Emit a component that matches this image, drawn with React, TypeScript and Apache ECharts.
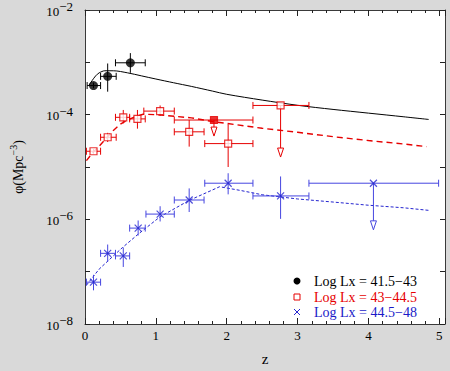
import React, { useEffect, useRef } from 'react';
import * as echarts from 'echarts';

// ---- axis ticks ----
const xTickValues = [0, 1, 2, 3, 4, 5];
const yLabelExponents = [-2, -4, -6, -8];

// ---- Log Lx = 41.5-43 (black, filled circles) ----
const blackZ = [0.12, 0.32, 0.64];
const blackPhi = [3.6e-4, 5.4e-4, 9.8e-4];
const blackZlo = [0.03, 0.22, 0.43];
const blackZhi = [0.22, 0.44, 0.85];
const blackPhiLo = [3.2e-4, 2.75e-4, 6.3e-4];
const blackPhiHi = [4.1e-4, 9.5e-4, 1.5e-3];
const blackLimit = [0, 0, 0];

const blackModelZ = [0.05, 0.1, 0.15, 0.2, 0.28, 0.4, 0.6, 0.8, 1.0, 1.25, 1.5, 1.8, 2.0, 2.5, 3.0, 3.5, 4.0, 4.5, 4.85];
const blackModelPhi = [3.55e-4, 4.47e-4, 5.5e-4, 6.3e-4, 6.9e-4, 6.9e-4, 6.3e-4, 5.5e-4, 4.8e-4, 4.07e-4, 3.47e-4, 2.82e-4, 2.45e-4, 1.9e-4, 1.51e-4, 1.26e-4, 1.07e-4, 9.1e-5, 8.1e-5];

// ---- Log Lx = 43-44.5 (red, open squares) ----
const redZ = [0.12, 0.32, 0.54, 0.74, 1.06, 1.47, 1.82, 2.02, 2.76];
const redPhi = [2.0e-5, 3.7e-5, 8.9e-5, 8.3e-5, 1.17e-4, 4.7e-5, 7.9e-5, 2.8e-5, 1.5e-4];
const redZlo = [0.02, 0.22, 0.43, 0.63, 0.83, 1.26, 1.26, 1.69, 2.37];
const redZhi = [0.22, 0.44, 0.63, 0.85, 1.26, 1.68, 2.37, 2.37, 3.16];
const redPhiLo = [1.8e-5, 3.0e-5, 6.8e-5, 5.4e-5, 9.5e-5, 2.45e-5, 3.9e-5, 1.0e-5, 1.55e-5];
const redPhiHi = [2.2e-5, 4.5e-5, 1.23e-4, 1.23e-4, 1.5e-4, 7.9e-5, 7.9e-5, 6.6e-5, 1.5e-4];
const redLimit = [0, 0, 0, 0, 0, 0, 1, 0, 1];
const redFilled = [0, 0, 0, 0, 0, 0, 1, 0, 0];

const redModelZ = [0.02, 0.1, 0.2, 0.3, 0.4, 0.5, 0.6, 0.7, 0.82, 1.0, 1.5, 1.8, 2.5, 3.0, 3.5, 4.0, 4.5, 4.82];
const redModelPhi = [1.32e-5, 1.82e-5, 2.5e-5, 3.55e-5, 5.0e-5, 6.6e-5, 7.9e-5, 9.1e-5, 1.02e-4, 1.0e-4, 8.7e-5, 7.4e-5, 5.5e-5, 4.6e-5, 3.8e-5, 3.2e-5, 2.75e-5, 2.45e-5];

// ---- Log Lx = 44.5-48 (blue, crosses) ----
const blueZ = [0.12, 0.32, 0.54, 0.75, 1.06, 1.47, 2.02, 2.76, 4.07];
const bluePhi = [6.3e-8, 2.24e-7, 2.0e-7, 6.8e-7, 1.26e-6, 2.34e-6, 4.9e-6, 2.8e-6, 4.9e-6];
const blueZlo = [0.02, 0.22, 0.43, 0.63, 0.86, 1.26, 1.69, 2.37, 3.16];
const blueZhi = [0.22, 0.43, 0.63, 0.85, 1.26, 1.68, 2.37, 3.16, 4.99];
const bluePhiLo = [4.4e-8, 1.55e-7, 1.23e-7, 4.9e-7, 9.1e-7, 1.38e-6, 3.0e-6, 1.02e-6, 6.3e-7];
const bluePhiHi = [8.7e-8, 3.3e-7, 2.9e-7, 9.5e-7, 1.78e-6, 3.9e-6, 7.6e-6, 6.6e-6, 4.9e-6];
const blueLimit = [0, 0, 0, 0, 0, 0, 0, 0, 1];

const blueModelZ = [0.02, 0.2, 0.4, 0.53, 0.75, 1.06, 1.47, 1.9, 2.2, 2.5, 3.0, 3.5, 4.0, 4.5, 4.86];
const blueModelPhi = [5.5e-8, 1.12e-7, 2.0e-7, 2.9e-7, 5.2e-7, 1.12e-6, 2.3e-6, 4.2e-6, 3.55e-6, 2.95e-6, 2.45e-6, 2.14e-6, 1.86e-6, 1.66e-6, 1.48e-6];

const legendLabels = ['Log Lx = 41.5\u221243', 'Log Lx = 43\u221244.5', 'Log Lx = 44.5\u221248'];

const SERIF = "'Liberation Serif', 'Times New Roman', Times, serif";
const BLACK = '#000000';
const RED = '#e60000';
const BLUE_MARK = '#4646e0';
const BLUE_LINE = '#2424d0';
const BLUE_TEXT = '#1a1ac8';

function pairs(xs: number[], ys: number[]) {
  return xs.map((x, i) => [x, ys[i]]);
}

function errData(z: number[], phi: number[], zlo: number[], zhi: number[], lo: number[], hi: number[], lim: number[]) {
  return z.map((v, i) => [v, phi[i], zlo[i], zhi[i], lo[i], hi[i], lim[i]]);
}

function makeErrRender(color: string) {
  return (params: any, api: any) => {
    const z = api.value(0);
    const y = api.value(1);
    const zlo = api.value(2);
    const zhi = api.value(3);
    const lo = api.value(4);
    const hi = api.value(5);
    const lim = api.value(6);
    const c = api.coord([z, y]);
    const l = api.coord([zlo, y]);
    const r = api.coord([zhi, y]);
    const st = { stroke: color, lineWidth: 1 };
    const children: any[] = [];
    children.push({ type: 'line', shape: { x1: l[0], y1: c[1], x2: r[0], y2: c[1] }, style: st });
    children.push({ type: 'line', shape: { x1: l[0], y1: c[1] - 3.5, x2: l[0], y2: c[1] + 3.5 }, style: st });
    children.push({ type: 'line', shape: { x1: r[0], y1: c[1] - 3.5, x2: r[0], y2: c[1] + 3.5 }, style: st });
    const b = api.coord([z, lo]);
    if (lim) {
      children.push({ type: 'line', shape: { x1: c[0], y1: c[1], x2: c[0], y2: b[1] - 8 }, style: st });
      children.push({
        type: 'polygon',
        shape: { points: [[c[0] - 3, b[1] - 9], [c[0] + 3, b[1] - 9], [c[0], b[1]]] },
        style: { fill: '#ffffff', stroke: color, lineWidth: 1 },
      });
    } else {
      const t = api.coord([z, hi]);
      children.push({ type: 'line', shape: { x1: c[0], y1: t[1], x2: c[0], y2: b[1] }, style: st });
    }
    return { type: 'group', children };
  };
}

export default function App() {
  const ref = useRef<HTMLDivElement>(null);
  useEffect(() => {
    if (!ref.current) return;
    const chart = echarts.init(ref.current, undefined, { renderer: 'svg' });
    const axisLineStyle = { color: '#3a3a3a', width: 1 };
    const xCommon = {
      type: 'value',
      min: 0,
      max: 5.08,
      interval: 1,
      axisLine: { show: true, onZero: false, lineStyle: axisLineStyle },
      axisTick: { show: true, inside: true, length: 6, lineStyle: { color: '#222' } },
      minorTick: { show: true, splitNumber: 5, length: 3, lineStyle: { color: '#222' } },
      splitLine: { show: false },
    };
    const yCommon = {
      type: 'log',
      logBase: 10,
      min: 1e-8,
      max: 1e-2,
      splitNumber: 6,
      axisLine: { show: true, onZero: false, lineStyle: axisLineStyle },
      axisTick: { show: true, inside: true, length: 5, lineStyle: { color: '#222' } },
      splitLine: { show: false },
    };
    const option: any = {
      animation: false,
      backgroundColor: '#d9d9d9',
      textStyle: { fontFamily: SERIF },
      grid: { left: 80, top: 10, right: 5, bottom: 38, show: true, backgroundColor: '#ffffff', borderWidth: 0 },
      xAxis: [
        {
          ...xCommon,
          position: 'bottom',
          name: 'z',
          nameLocation: 'middle',
          nameGap: 27,
          nameTextStyle: { fontFamily: SERIF, fontSize: 15, color: '#000' },
          axisLabel: {
            show: true,
            margin: 5,
            fontFamily: SERIF,
            fontSize: 13,
            color: '#000',
            showMaxLabel: false,
            formatter: (v: number) => (xTickValues.includes(Math.round(v * 1000) / 1000) ? String(v) : ''),
          },
        },
        {
          ...xCommon,
          position: 'top',
          axisLabel: { show: false },
        },
      ],
      yAxis: [
        {
          ...yCommon,
          position: 'left',
          name: '\u03c6(Mpc{s|\u22123})',
          nameLocation: 'middle',
          nameGap: 57,
          nameRotate: 90,
          nameTextStyle: {
            fontFamily: SERIF,
            fontSize: 14,
            color: '#000',
            lineHeight: 20,
            rich: { s: { fontFamily: SERIF, fontSize: 10, verticalAlign: 'top', lineHeight: 12, color: '#000' } },
          },
          axisLabel: {
            show: true,
            margin: 12,
            formatter: (v: number) => {
              const e = Math.round(Math.log10(v));
              if (!yLabelExponents.includes(e)) return '';
              return '{b|10}{s|\u2212' + -e + '}';
            },
            rich: {
              b: { fontFamily: SERIF, fontSize: 13, color: '#000', lineHeight: 20, verticalAlign: 'middle', padding: [2, 0, 0, 0] },
              s: { fontFamily: SERIF, fontSize: 13, color: '#000', verticalAlign: 'top' },
            },
          },
        },
        {
          ...yCommon,
          position: 'right',
          axisLabel: { show: false },
        },
      ],
      series: [
        {
          name: legendLabels[0] + ' model',
          type: 'line',
          data: pairs(blackModelZ, blackModelPhi),
          showSymbol: false,
          smooth: 0.3,
          lineStyle: { color: BLACK, width: 1 },
          z: 2,
        },
        {
          name: legendLabels[1] + ' model',
          type: 'line',
          data: pairs(redModelZ, redModelPhi),
          showSymbol: false,
          lineStyle: { color: RED, width: 1.4, type: [6, 4] },
          z: 2,
        },
        {
          name: legendLabels[2] + ' model',
          type: 'line',
          data: pairs(blueModelZ, blueModelPhi),
          showSymbol: false,
          lineStyle: { color: BLUE_LINE, width: 1, type: [3, 2] },
          z: 2,
        },
        {
          type: 'custom',
          data: errData(blackZ, blackPhi, blackZlo, blackZhi, blackPhiLo, blackPhiHi, blackLimit),
          encode: { x: 0, y: 1 },
          renderItem: makeErrRender(BLACK),
          z: 3,
        },
        {
          type: 'custom',
          data: errData(redZ, redPhi, redZlo, redZhi, redPhiLo, redPhiHi, redLimit),
          encode: { x: 0, y: 1 },
          renderItem: makeErrRender(RED),
          z: 3,
        },
        {
          type: 'custom',
          data: errData(blueZ, bluePhi, blueZlo, blueZhi, bluePhiLo, bluePhiHi, blueLimit),
          encode: { x: 0, y: 1 },
          renderItem: makeErrRender(BLUE_MARK),
          z: 3,
        },
        {
          name: legendLabels[0],
          type: 'scatter',
          data: pairs(blackZ, blackPhi),
          symbol: 'circle',
          symbolSize: 9,
          itemStyle: { color: BLACK },
          z: 4,
        },
        {
          name: legendLabels[1],
          type: 'scatter',
          data: redZ.map((z, i) => ({
            value: [z, redPhi[i]],
            itemStyle: { color: redFilled[i] ? RED : '#ffffff', borderColor: RED, borderWidth: 1.2 },
          })),
          symbol: 'rect',
          symbolSize: 7,
          z: 4,
        },
        {
          name: legendLabels[2],
          type: 'scatter',
          data: pairs(blueZ, bluePhi),
          symbol: 'path://M0 0L10 10M10 0L0 10',
          symbolSize: 7,
          itemStyle: { color: 'none', borderColor: BLUE_LINE, borderWidth: 1.2 },
          z: 4,
        },
      ],
      graphic: [
        { type: 'circle', shape: { cx: 297, cy: 281, r: 3.5 }, style: { fill: BLACK } },
        { type: 'rect', shape: { x: 294, y: 294, width: 6, height: 6 }, style: { fill: '#fff', stroke: RED, lineWidth: 1 } },
        { type: 'line', shape: { x1: 294, y1: 309, x2: 300, y2: 315 }, style: { stroke: BLUE_LINE, lineWidth: 1 } },
        { type: 'line', shape: { x1: 300, y1: 309, x2: 294, y2: 315 }, style: { stroke: BLUE_LINE, lineWidth: 1 } },
        { type: 'text', x: 314, y: 281, style: { text: legendLabels[0], fill: BLACK, fontSize: 14, fontFamily: SERIF, verticalAlign: 'middle' } },
        { type: 'text', x: 314, y: 297, style: { text: legendLabels[1], fill: RED, fontSize: 14, fontFamily: SERIF, verticalAlign: 'middle' } },
        { type: 'text', x: 314, y: 312, style: { text: legendLabels[2], fill: BLUE_TEXT, fontSize: 14, fontFamily: SERIF, verticalAlign: 'middle' } },
      ],
    };
    chart.setOption(option);
    return () => chart.dispose();
  }, []);
  return <div ref={ref} style={{ position: 'fixed', left: 0, top: 0, width: 450, height: 371 }} />;
}
